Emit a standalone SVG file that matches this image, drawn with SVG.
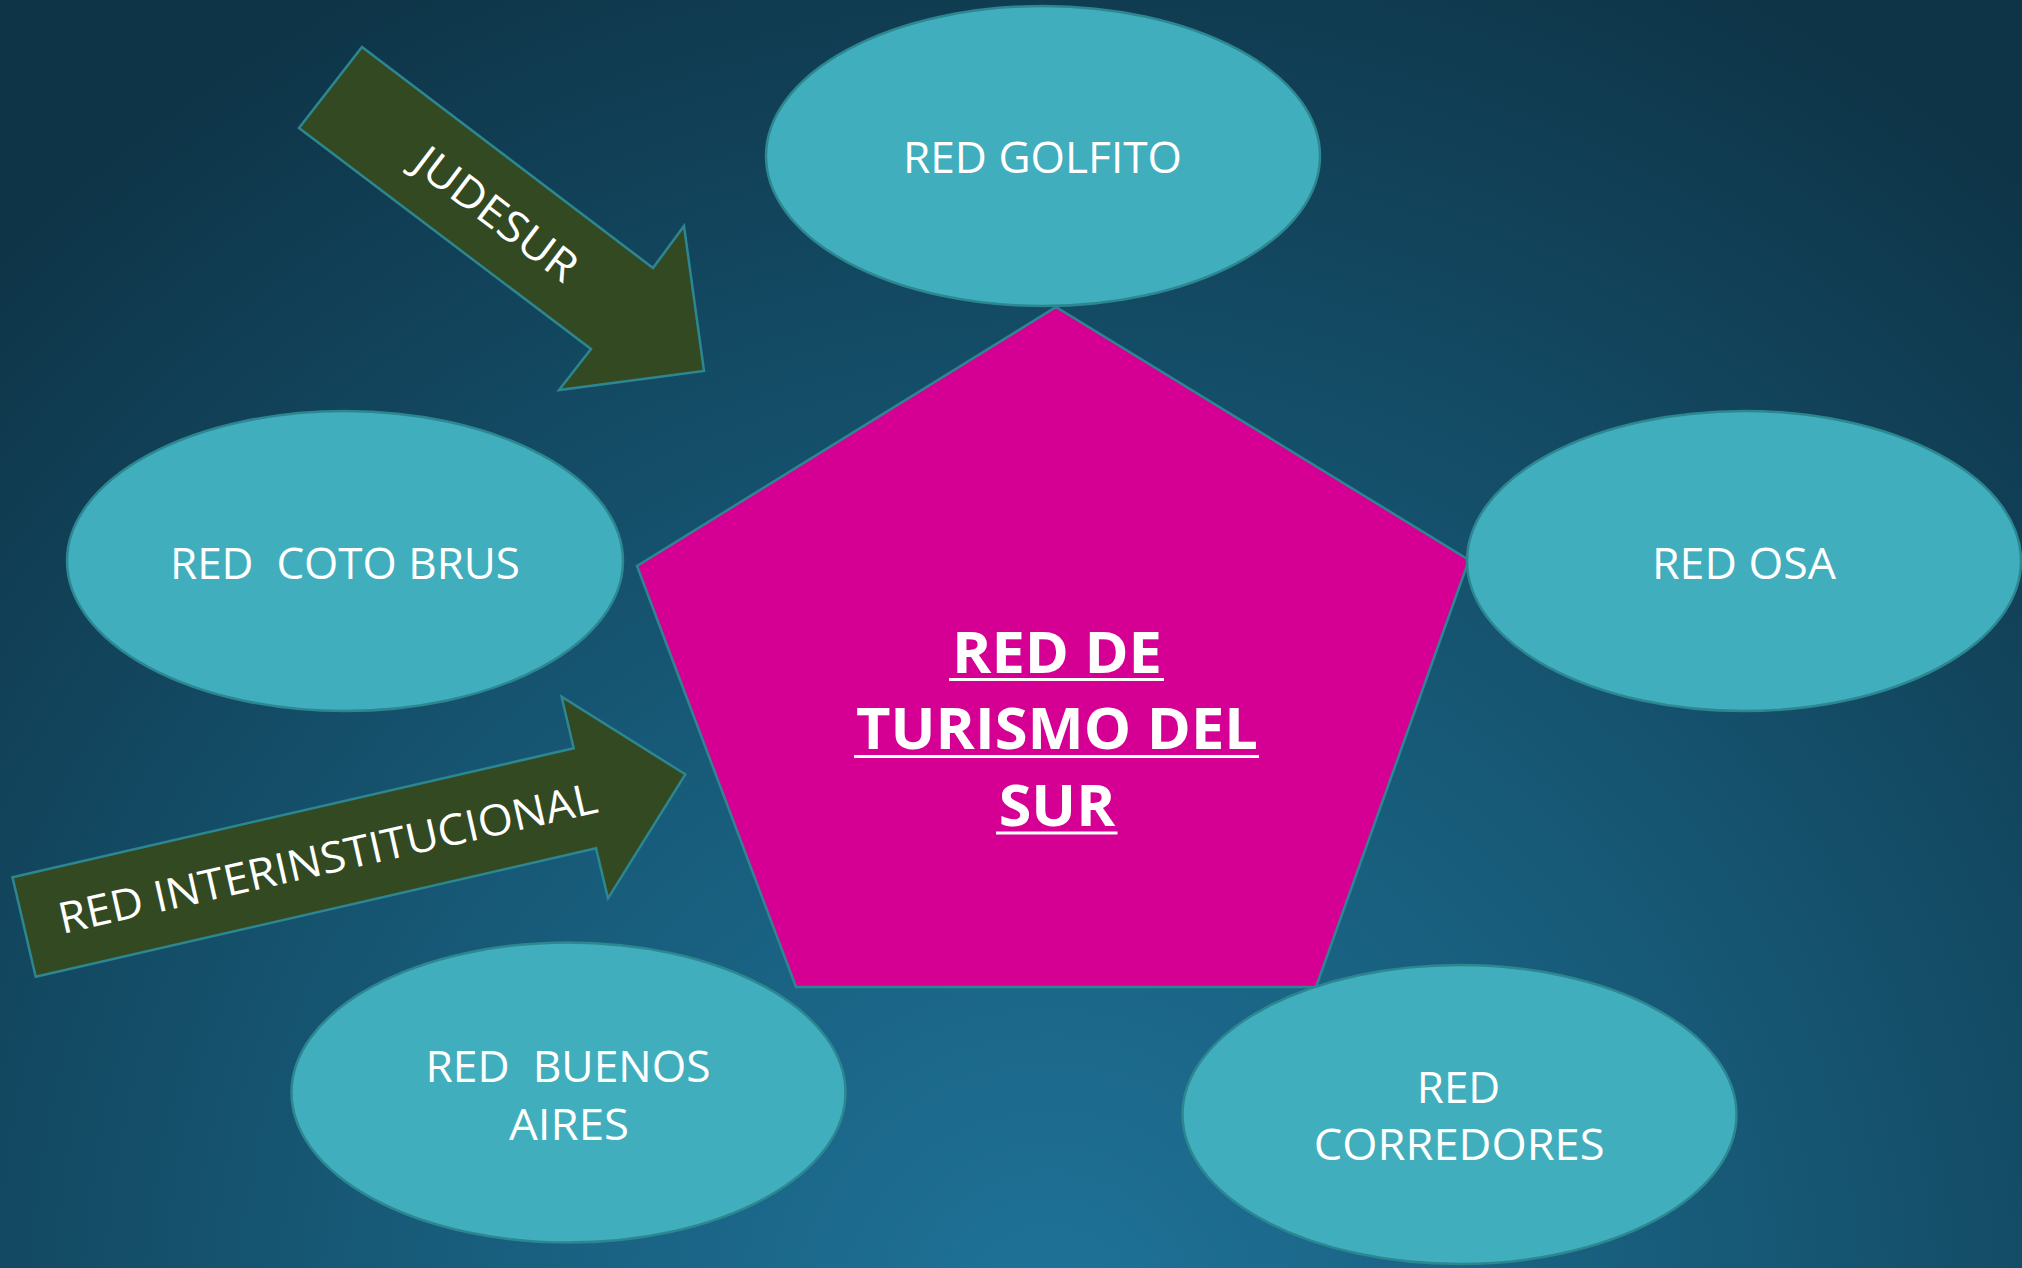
<svg xmlns="http://www.w3.org/2000/svg" width="2022" height="1268" viewBox="0 0 2022 1268">
<defs>
<radialGradient id="bg" cx="1050" cy="1320" r="1500" gradientUnits="userSpaceOnUse">
<stop offset="0" stop-color="#1f7399"/>
<stop offset="0.45" stop-color="#175a78"/>
<stop offset="1" stop-color="#0e3447"/>
</radialGradient>
<style>
.ell{fill:#41aebd;stroke:#2c8791;stroke-width:2.5}
.pent{fill:#d50093;stroke:#2c8791;stroke-width:2.5}
.arr{fill:#334921;stroke:#2c8791;stroke-width:2.5}
.lbl{fill:#ffffff;font-family:"Open Sans","Liberation Sans",sans-serif;font-size:43px;text-anchor:middle}
.big{fill:#ffffff;font-family:"Open Sans","Liberation Sans",sans-serif;font-size:57px;font-weight:bold;text-anchor:middle}
.ul{stroke:#ffffff;stroke-width:3}
</style>
</defs>
<rect x="0" y="0" width="2022" height="1268" fill="url(#bg)"/>

<g id="connectors">
<g id="arrow-judesur">
<polygon class="arr" points="362,47 653,268 684,226 704,371 559,390 591,349 299,128"/>
<text class="lbl" transform="translate(487,226) rotate(37.2)" x="0" y="0" textLength="193" lengthAdjust="spacingAndGlyphs">JUDESUR</text>
</g>
<g id="arrow-interinstitucional">
<polygon class="arr" points="12.5,877.3 573.7,748.3 561.6,696.7 685.3,774.3 608,898.3 596,848.3 35.7,976.7"/>
<text class="lbl" transform="translate(331,873) rotate(-12.8)" x="0" y="0" textLength="551" lengthAdjust="spacingAndGlyphs">RED INTERINSTITUCIONAL</text>
</g>
</g>

<g id="node-red-turismo-sur">
<polygon class="pent" points="1056,307 1469,560 1316,987 796,987 637,566"/>
<text class="big" x="1057" y="672.6" textLength="210" lengthAdjust="spacingAndGlyphs">RED DE</text>
<line class="ul" x1="949" y1="679.5" x2="1164" y2="679.5"/>
<text class="big" x="1057" y="749" textLength="402" lengthAdjust="spacingAndGlyphs">TURISMO DEL</text>
<line class="ul" x1="854" y1="756.6" x2="1259" y2="756.6"/>
<text class="big" x="1057" y="826" textLength="116.5" lengthAdjust="spacingAndGlyphs">SUR</text>
<line class="ul" x1="996" y1="833" x2="1117.5" y2="833"/>
</g>

<g id="node-red-golfito">
<ellipse class="ell" cx="1043" cy="156" rx="277" ry="150"/>
<text class="lbl" x="1042.5" y="173" textLength="279" lengthAdjust="spacingAndGlyphs">RED GOLFITO</text>
</g>

<g id="node-red-coto-brus">
<ellipse class="ell" cx="345" cy="561" rx="278" ry="150"/>
<text class="lbl" x="345" y="579" textLength="350" lengthAdjust="spacingAndGlyphs" xml:space="preserve">RED  COTO BRUS</text>
</g>

<g id="node-red-osa">
<ellipse class="ell" cx="1744" cy="561" rx="277" ry="150"/>
<text class="lbl" x="1744" y="579" textLength="184" lengthAdjust="spacingAndGlyphs">RED OSA</text>
</g>

<g id="node-red-buenos-aires">
<ellipse class="ell" cx="568.5" cy="1092.5" rx="277" ry="150"/>
<text class="lbl" x="568" y="1082" textLength="285" lengthAdjust="spacingAndGlyphs" xml:space="preserve">RED  BUENOS</text>
<text class="lbl" x="569" y="1140" textLength="120" lengthAdjust="spacingAndGlyphs">AIRES</text>
</g>

<g id="node-red-corredores">
<ellipse class="ell" cx="1459.5" cy="1114.5" rx="277" ry="149.5"/>
<text class="lbl" x="1458.5" y="1103.3" textLength="83.5" lengthAdjust="spacingAndGlyphs">RED</text>
<text class="lbl" x="1459.2" y="1160" textLength="290.8" lengthAdjust="spacingAndGlyphs">CORREDORES</text>
</g>
</svg>
